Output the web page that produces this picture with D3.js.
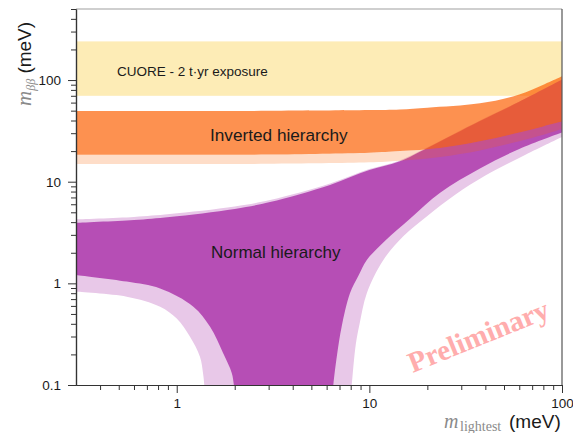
<!DOCTYPE html>
<html>
<head>
<meta charset="utf-8">
<script src="https://cdn.jsdelivr.net/npm/d3@7"></script>
<style>
  body { margin: 0; background: #fff; }
  svg { display: block; }
</style>
</head>
<body>
<svg id="chart" width="573" height="433" font-family="'Liberation Sans', Arial, sans-serif"></svg>
<script>
// Axis ranges (meV)
const xDomain = [0.3, 100];
const yDomain = [0.1, 500];
const xMajorTicks = [1, 10, 100];
const xMajorLabels = ["1", "10", "100"];
const yMajorTicks = [0.1, 1, 10, 100];
const yMajorLabels = ["0.1", "1", "10", "100"];

// CUORE 2 t·yr sensitivity band [low, high]
const cuoreBand = [70, 240];

// Inverted hierarchy edges: [m_lightest, m_bb]
const ihUpper = [[0.3, 49.5], [1, 49.6], [3, 49.8], [10, 50.6], [14.4, 51.4], [20, 53.5], [37.5, 59], [60, 72], [80, 90], [100, 109]];
const ihLowerInner = [[0.3, 18.4], [1, 18.4], [3, 18.5], [10, 19.3], [14.4, 20], [23.3, 21.5], [37.5, 25], [60, 30.5], [80, 35], [100, 39]];
const ihLowerOuter = [[0.3, 14.9], [1, 14.9], [3, 15], [10, 15.5], [14.4, 16.1], [23.3, 17.5], [37.5, 20.3], [60, 25], [80, 29], [100, 33]];

// Normal hierarchy edges: [m_lightest, m_bb]
const nhUpperInner = [[0.3, 3.94], [0.6, 4.2], [0.92, 4.5], [2, 5.4], [3.05, 6.3], [6.25, 9.3], [10, 13], [14.4, 15.9], [20, 21.5], [37.5, 39.5], [60, 61], [100, 101]];
const nhUpperOuter = [[0.3, 4.26], [0.6, 4.5], [0.92, 4.8], [2, 5.7], [3.05, 6.6], [6.25, 9.6], [10, 13.3], [14.4, 16.2], [20, 21.8], [37.5, 40], [60, 61.5], [100, 101.5]];
const nhLeftInner = [[0.3, 1.21], [0.55, 1.04], [0.82, 0.89], [1.22, 0.59], [1.49, 0.374], [1.74, 0.206], [1.93, 0.131], [1.98, 0.1], [2.02, 0.07], [2.05, 0.05]];
const nhLeftOuter = [[0.3, 0.827], [0.55, 0.74], [0.82, 0.59], [1.0, 0.45], [1.17, 0.3], [1.32, 0.19], [1.37, 0.13], [1.39, 0.1], [1.41, 0.07], [1.42, 0.05]];
const nhRightInner = [[6.35, 0.05], [6.4, 0.07], [6.5, 0.1], [6.8, 0.2], [7.18, 0.374], [7.93, 0.8], [8.8, 1.2], [9.68, 1.69], [12, 2.6], [16.2, 4.3], [23.3, 7.8], [37.5, 13.5], [60, 21], [100, 30.5]];
const nhRightOuter = [[7.9, 0.05], [7.95, 0.07], [8.1, 0.1], [8.5, 0.25], [8.9, 0.4], [9.7, 0.8], [11.8, 1.69], [15, 2.9], [20, 4.6], [28, 7.5], [40, 11.5], [65, 18.5], [100, 27.5]];

const colors = {
  cuore: "#fdecb6",
  ihCore: "rgb(252,98,5)",
  nhCore: "#b64eb5",
  nhOuter: "#e8c8e8"
};

const svg = d3.select("#chart");
const pL = 76, pR = 562, pT = 9, pB = 385;

const x = d3.scaleLog().domain(xDomain).range([pL, pR]);
const y = d3.scaleLog().domain(yDomain).range([pB, pT]);

svg.append("defs").append("clipPath").attr("id", "plot")
  .append("rect").attr("x", pL).attr("y", pT)
  .attr("width", pR - pL).attr("height", pB - pT);

const plot = svg.append("g").attr("clip-path", "url(#plot)");

// smooth edge through the listed points
const edge = d3.line().x(d => x(d[0])).y(d => y(d[1])).curve(d3.curveCatmullRom.alpha(0.5));
function outline(...parts) {
  return parts.map((p, i) => {
    const s = edge(p);
    return i === 0 ? s : s.replace(/^M/, "L");
  }).join("") + "Z";
}
const rev = a => a.slice().reverse();

// CUORE band
plot.append("rect")
  .attr("x", pL).attr("width", pR - pL)
  .attr("y", y(cuoreBand[1])).attr("height", y(cuoreBand[0]) - y(cuoreBand[1]))
  .attr("fill", colors.cuore);

// Normal hierarchy: outer and inner bands
plot.append("path")
  .attr("d", outline(nhUpperOuter, rev(nhRightOuter), rev(nhLeftOuter)))
  .attr("fill", colors.nhOuter);
plot.append("path")
  .attr("d", outline(nhUpperInner, rev(nhRightInner), rev(nhLeftInner)))
  .attr("fill", colors.nhCore);

// Inverted hierarchy: outer strip and inner band, translucent
plot.append("path")
  .attr("d", outline(ihLowerInner, rev(ihLowerOuter)))
  .attr("fill", colors.ihCore).attr("fill-opacity", 0.22);
plot.append("path")
  .attr("d", outline(ihUpper, rev(ihLowerInner)))
  .attr("fill", colors.ihCore).attr("fill-opacity", 0.7);

// Band labels
svg.append("text").attr("x", 117).attr("y", 76)
  .attr("font-size", 13.5).attr("fill", "#1a1a1a")
  .text("CUORE - 2 t·yr exposure");
svg.append("text").attr("x", 210).attr("y", 141)
  .attr("font-size", 17.2).attr("fill", "#1a1a1a")
  .text("Inverted hierarchy");
svg.append("text").attr("x", 211).attr("y", 258)
  .attr("font-size", 17).attr("fill", "#1a1a1a")
  .text("Normal hierarchy");

// Watermark
svg.append("text")
  .attr("transform", "translate(482,345) rotate(-22)")
  .attr("text-anchor", "middle")
  .attr("font-family", "'Liberation Serif', 'DejaVu Serif', serif")
  .attr("font-weight", "bold").attr("font-size", 29)
  .attr("fill", "#ffadad")
  .text("Preliminary");

// Frame
svg.append("line").attr("x1", pL).attr("x2", pR).attr("y1", pT).attr("y2", pT)
  .attr("stroke", "#a0a0a0").attr("stroke-width", 1.2);
svg.append("line").attr("x1", pR).attr("x2", pR).attr("y1", pT).attr("y2", pB)
  .attr("stroke", "#555").attr("stroke-width", 1.2);

// Axes
function styleAxis(g) {
  g.selectAll(".domain").attr("stroke", "#333").attr("stroke-width", 1.2);
  g.selectAll(".tick line").attr("stroke", "#333").attr("stroke-width", 1);
  g.selectAll(".tick text").attr("fill", "#1a1a1a").attr("font-size", 13.5)
    .attr("font-family", "'Liberation Sans', Arial, sans-serif");
}
const xMinor = x.ticks().filter(v => !xMajorTicks.some(t => Math.abs(t - v) < 1e-9) && v > xDomain[0]);
const yMinor = y.ticks().filter(v => !yMajorTicks.some(t => Math.abs(t - v) < 1e-9));

svg.append("g").attr("transform", `translate(0,${pB})`)
  .call(d3.axisBottom(x).tickValues(xMinor).tickSize(5).tickSizeOuter(0).tickFormat(""))
  .call(styleAxis);
svg.append("g").attr("transform", `translate(0,${pB})`)
  .call(d3.axisBottom(x).tickValues(xMajorTicks).tickSize(8).tickPadding(5).tickSizeOuter(0)
    .tickFormat((d, i) => xMajorLabels[i]))
  .call(styleAxis);
svg.append("g").attr("transform", `translate(${pL},0)`)
  .call(d3.axisLeft(y).tickValues(yMinor).tickSize(5).tickSizeOuter(0).tickFormat(""))
  .call(styleAxis);
svg.append("g").attr("transform", `translate(${pL},0)`)
  .call(d3.axisLeft(y).tickValues(yMajorTicks).tickSize(8).tickPadding(7).tickSizeOuter(0)
    .tickFormat((d, i) => yMajorLabels[i]))
  .call(styleAxis);

// Axis titles
const serif = "'Liberation Serif', 'DejaVu Serif', serif";
const yt = svg.append("text").attr("transform", "translate(31,106) rotate(-90)");
yt.append("tspan").attr("font-family", serif).attr("font-style", "italic")
  .attr("font-size", 21).attr("fill", "#8a8a8a").text("m");
yt.append("tspan").attr("font-family", serif).attr("font-style", "italic")
  .attr("font-size", 12).attr("fill", "#8a8a8a").attr("dy", 4).text("ββ");
yt.append("tspan").attr("font-size", 19).attr("fill", "#1a1a1a").attr("dy", -4).text(" (meV)");

svg.append("text").attr("x", 444).attr("y", 428)
  .attr("font-family", serif).attr("font-style", "italic")
  .attr("font-size", 20).attr("fill", "#8a8a8a").text("m");
svg.append("text").attr("x", 460).attr("y", 431)
  .attr("font-family", serif)
  .attr("font-size", 14).attr("fill", "#8a8a8a").text("lightest");
svg.append("text").attr("x", 509).attr("y", 428)
  .attr("font-size", 19).attr("fill", "#1a1a1a").text("(meV)");
</script>
</body>
</html>
